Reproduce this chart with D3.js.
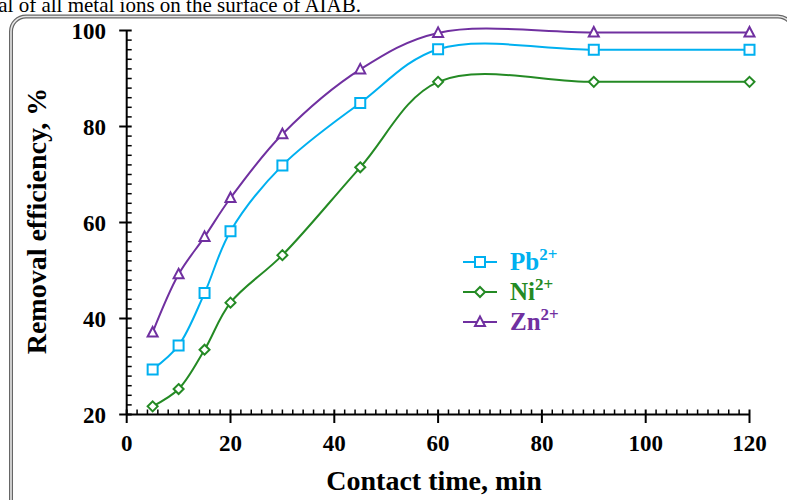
<!DOCTYPE html>
<html>
<head>
<meta charset="utf-8">
<script src="https://cdn.jsdelivr.net/npm/d3@7"></script>
<style>
  html, body { margin: 0; padding: 0; background: #fff; }
  svg { display: block; }
  text { font-family: "Liberation Serif", "Times New Roman", serif; }
</style>
</head>
<body>
<svg id="chart" width="787" height="500"></svg>
<script>
// Contact time (min) and removal efficiency (%) for each metal ion
const times = [5, 10, 15, 20, 30, 45, 60, 90, 120];
const pbValues = [29.4, 34.4, 45.3, 58.2, 71.9, 84.9, 96.1, 96.0, 96.0];
const niValues = [21.7, 25.3, 33.5, 43.3, 53.2, 71.5, 89.3, 89.3, 89.3];
const znValues = [37.1, 49.2, 57.0, 65.1, 78.4, 91.9, 99.5, 99.6, 99.6];

const xTicks = [0, 20, 40, 60, 80, 100, 120];
const yTicks = [20, 40, 60, 80, 100];

const seriesNames = ["Pb", "Ni", "Zn"];
const seriesCharges = ["2+", "2+", "2+"];
const seriesColors = ["#00B0F0", "#248A24", "#7030A0"];
const seriesMarkers = ["square", "diamond", "triangle"];
const seriesValues = [pbValues, niValues, znValues];

const captionText = "al of all metal ions on the surface of AIAB.";
const xTitle = "Contact time, min";
const yTitle = "Removal efficiency, %";

const svg = d3.select("#chart");

// caption line running above the figure frame
svg.append("text")
  .attr("x", 361).attr("y", 12)
  .attr("text-anchor", "end")
  .attr("font-size", 21)
  .attr("fill", "#000")
  .text(captionText);

// rounded double-line frame
const frame = svg.append("g");
frame.append("rect")
  .attr("x", 11).attr("y", 16.5).attr("width", 782).attr("height", 500)
  .attr("rx", 15).attr("ry", 15)
  .attr("fill", "none").attr("stroke", "#666").attr("stroke-width", 4);
frame.append("rect")
  .attr("x", 11).attr("y", 16.5).attr("width", 782).attr("height", 500)
  .attr("rx", 15).attr("ry", 15)
  .attr("fill", "none").attr("stroke", "#e6e6e6").attr("stroke-width", 1.6);

const x = d3.scaleLinear().domain([0, 120]).range([126.7, 749.5]);
const y = d3.scaleLinear().domain([20, 100]).range([414.5, 30.5]);

const axisG = svg.append("g").attr("stroke", "#000");

// x axis: line, minor ticks (inside), major ticks (crossing)
axisG.append("line")
  .attr("x1", x(0)).attr("x2", x(120)).attr("y1", y(20)).attr("y2", y(20))
  .attr("stroke-width", 2);
d3.range(0, 121, 2).forEach(t => {
  const major = t % 20 === 0;
  axisG.append("line")
    .attr("x1", x(t)).attr("x2", x(t))
    .attr("y1", y(20) - 5).attr("y2", y(20) + (major ? 8.5 : 0))
    .attr("stroke-width", major ? 2 : 1.5);
});
// y axis
axisG.append("line")
  .attr("x1", x(0)).attr("x2", x(0)).attr("y1", y(20)).attr("y2", y(100))
  .attr("stroke-width", 2);
d3.range(20, 101, 2).forEach(v => {
  const major = v % 20 === 0;
  axisG.append("line")
    .attr("y1", y(v)).attr("y2", y(v))
    .attr("x1", x(0) - (major ? 7.5 : 0)).attr("x2", x(0) + 5)
    .attr("stroke-width", major ? 2 : 1.5);
});

// tick labels
svg.append("g").selectAll("text").data(xTicks).join("text")
  .attr("x", d => x(d)).attr("y", 451)
  .attr("text-anchor", "middle")
  .attr("font-size", 23).attr("font-weight", "bold")
  .text(d => d);
svg.append("g").selectAll("text").data(yTicks).join("text")
  .attr("x", 106).attr("y", d => y(d) + 8)
  .attr("text-anchor", "end")
  .attr("font-size", 23).attr("font-weight", "bold")
  .text(d => d);

// axis titles
svg.append("text")
  .attr("x", 434).attr("y", 490)
  .attr("text-anchor", "middle")
  .attr("font-size", 28).attr("font-weight", "bold")
  .text(xTitle);
svg.append("text")
  .attr("transform", "translate(46,221) rotate(-90)")
  .attr("text-anchor", "middle")
  .attr("font-size", 28).attr("font-weight", "bold")
  .text(yTitle);

// marker shapes
function markerPath(kind) {
  if (kind === "square") return "M-5,-5H5V5H-5Z";
  if (kind === "diamond") return "M0,-5L5,0L0,5L-5,0Z";
  return "M0,-5.5L5,4H-5Z";
}

const line = d3.line()
  .x(d => x(d[0])).y(d => y(d[1]))
  .curve(d3.curveCatmullRom.alpha(0.5));

const plot = svg.append("g");
seriesValues.forEach((vals, i) => {
  const pts = times.map((t, k) => [t, vals[k]]);
  plot.append("path")
    .attr("d", line(pts))
    .attr("fill", "none")
    .attr("stroke", seriesColors[i])
    .attr("stroke-width", 2);
});
seriesValues.forEach((vals, i) => {
  const pts = times.map((t, k) => [t, vals[k]]);
  plot.append("g").selectAll("path").data(pts).join("path")
    .attr("transform", d => `translate(${x(d[0])},${y(d[1])})`)
    .attr("d", markerPath(seriesMarkers[i]))
    .attr("fill", "#fff")
    .attr("stroke", seriesColors[i])
    .attr("stroke-width", 2);
});

// legend
const legend = svg.append("g");
const legendY = [262, 292, 322];
seriesNames.forEach((name, i) => {
  const g = legend.append("g").attr("transform", `translate(0,${legendY[i]})`);
  g.append("line")
    .attr("x1", 463).attr("x2", 497).attr("y1", 0).attr("y2", 0)
    .attr("stroke", seriesColors[i]).attr("stroke-width", 2);
  g.append("path")
    .attr("transform", "translate(480,0)")
    .attr("d", markerPath(seriesMarkers[i]))
    .attr("fill", "#fff").attr("stroke", seriesColors[i]).attr("stroke-width", 2);
  const t = g.append("text")
    .attr("x", 510).attr("y", 8)
    .attr("font-size", 25).attr("font-weight", "bold")
    .attr("fill", seriesColors[i]);
  t.append("tspan").text(name);
  t.append("tspan").attr("dy", -10).attr("font-size", 17).text(seriesCharges[i]);
});
</script>
</body>
</html>
